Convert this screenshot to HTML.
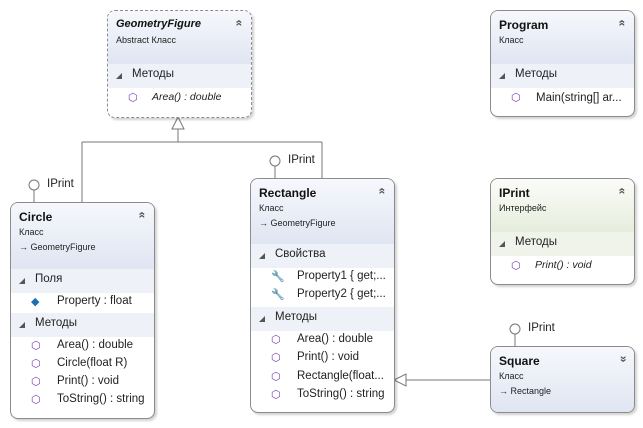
<!DOCTYPE html>
<html><head><meta charset="utf-8"><style>
body{margin:0;width:643px;height:428px;background:#fff;position:relative;overflow:hidden;font-family:"Liberation Sans","DejaVu Sans",sans-serif;}
.box{position:absolute;border:1px solid #8c8c8c;border-radius:8px;background:#fff;box-shadow:2px 2px 2px rgba(0,0,0,.18);overflow:hidden;}
.hd{position:absolute;left:0;right:0;top:0;background:linear-gradient(#f6f8fc,#dfe5f2);border-bottom:1px solid #e3e6ee;}
.hd.g{background:linear-gradient(#fbfcf8,#e6eddc);}
.t{position:absolute;left:8px;top:7px;font-weight:bold;font-size:12px;color:#111;}
.s{position:absolute;left:8px;font-size:9px;color:#222;}
.chev{position:absolute;right:8px;top:5px;font-size:12px;font-weight:bold;color:#555;transform:rotate(90deg);}
.chev.d{transform:rotate(-90deg);}
.sec{position:absolute;left:0;right:0;background:#eef1f7;font-size:11.5px;color:#222;}
.sec.g{background:#eff3ea;}
.sec span{position:absolute;left:24px;top:4px;}
.sec i{position:absolute;left:8px;top:9px;width:0;height:0;border-left:6px solid transparent;border-bottom:6px solid #555;}
.it{position:absolute;font-size:11.5px;color:#222;white-space:nowrap;}
.ic{position:absolute;font-size:11px;color:#7a3fb8;}
.lbl{position:absolute;font-size:11.5px;color:#222;}
</style></head><body>
<svg width="643" height="428" style="position:absolute;left:0;top:0">
<g stroke="#777" fill="none" stroke-width="1">
<path d="M178 129V142M82 142H322M82 142V202M322 142V178"/>
<polygon points="178,117 172,129 184,129" fill="#fff"/>
<circle cx="34" cy="185" r="5" fill="#fff"/><path d="M34 190V202"/>
<circle cx="275" cy="161" r="5" fill="#fff"/><path d="M275 166V178"/>
<circle cx="515" cy="329" r="5" fill="#fff"/><path d="M515 334V346"/>
<path d="M406 380H490"/>
<polygon points="394,380 406,374 406,386" fill="#fff"/>
</g></svg>
<div class="lbl" style="left:47px;top:178px">IPrint</div>
<div class="lbl" style="left:288px;top:154px">IPrint</div>
<div class="lbl" style="left:528px;top:322px">IPrint</div>

<div class="box" style="left:107px;top:10px;width:143px;height:106px;border-style:dashed">
<div class="hd" style="height:53px"><div class="t" style="font-style:italic;font-size:11px">GeometryFigure</div><div class="s" style="top:24px">Abstract Класс</div><div class="chev">«</div></div>
<div class="sec" style="top:53px;height:24px"><i></i><span>Методы</span></div>
<div class="ic" style="left:20px;top:80px">⬡</div><div class="it" style="left:44px;top:80px;font-style:italic;font-size:10.5px">Area() : double</div>
</div>

<div class="box" style="left:490px;top:10px;width:143px;height:105px">
<div class="hd" style="height:53px"><div class="t">Program</div><div class="s" style="top:24px">Класс</div><div class="chev">«</div></div>
<div class="sec" style="top:53px;height:24px"><i></i><span>Методы</span></div>
<div class="ic" style="left:20px;top:80px">⬡</div><div class="it" style="left:45px;top:81px">Main(string[]  ar...</div>
</div>

<div class="box" style="left:490px;top:178px;width:143px;height:105px">
<div class="hd g" style="height:53px"><div class="t">IPrint</div><div class="s" style="top:24px">Интерфейс</div><div class="chev">«</div></div>
<div class="sec g" style="top:53px;height:24px"><i></i><span>Методы</span></div>
<div class="ic" style="left:20px;top:80px">⬡</div><div class="it" style="left:44px;top:80px;font-style:italic;font-size:10.5px">Print() : void</div>
</div>

<div class="box" style="left:490px;top:346px;width:143px;height:65px">
<div class="hd" style="height:65px;border:none"><div class="t">Square</div><div class="s" style="top:24px">Класс</div><div class="s" style="top:39px">→ Rectangle</div><div class="chev d">«</div></div>
</div>

<div class="box" style="left:10px;top:202px;width:143px;height:215px">
<div class="hd" style="height:65px"><div class="t">Circle</div><div class="s" style="top:24px">Класс</div><div class="s" style="top:39px">→ GeometryFigure</div><div class="chev">«</div></div>
<div class="sec" style="top:66px;height:24px"><i></i><span>Поля</span></div>
<div class="ic" style="left:20px;top:92px;color:#1f6fb0">◆</div><div class="it" style="left:46px;top:92px">Property : float</div>
<div class="sec" style="top:110px;height:24px"><i></i><span>Методы</span></div>
<div class="ic" style="left:20px;top:136px">⬡</div><div class="it" style="left:46px;top:136px">Area() : double</div>
<div class="ic" style="left:20px;top:154px">⬡</div><div class="it" style="left:46px;top:154px">Circle(float R)</div>
<div class="ic" style="left:20px;top:172px">⬡</div><div class="it" style="left:46px;top:172px">Print() : void</div>
<div class="ic" style="left:20px;top:190px">⬡</div><div class="it" style="left:46px;top:190px">ToString() : string</div>
</div>

<div class="box" style="left:250px;top:178px;width:143px;height:233px">
<div class="hd" style="height:65px"><div class="t">Rectangle</div><div class="s" style="top:24px">Класс</div><div class="s" style="top:39px">→ GeometryFigure</div><div class="chev">«</div></div>
<div class="sec" style="top:65px;height:24px"><i></i><span>Свойства</span></div>
<div class="ic" style="left:20px;top:91px;color:#333">🔧</div><div class="it" style="left:46px;top:91px">Property1 { get;...</div>
<div class="ic" style="left:20px;top:109px;color:#333">🔧</div><div class="it" style="left:46px;top:109px">Property2 { get;...</div>
<div class="sec" style="top:128px;height:24px"><i></i><span>Методы</span></div>
<div class="ic" style="left:20px;top:154px">⬡</div><div class="it" style="left:46px;top:154px">Area() : double</div>
<div class="ic" style="left:20px;top:172px">⬡</div><div class="it" style="left:46px;top:172px">Print() : void</div>
<div class="ic" style="left:20px;top:191px">⬡</div><div class="it" style="left:46px;top:191px">Rectangle(float...</div>
<div class="ic" style="left:20px;top:209px">⬡</div><div class="it" style="left:46px;top:209px">ToString() : string</div>
</div>
</body></html>
